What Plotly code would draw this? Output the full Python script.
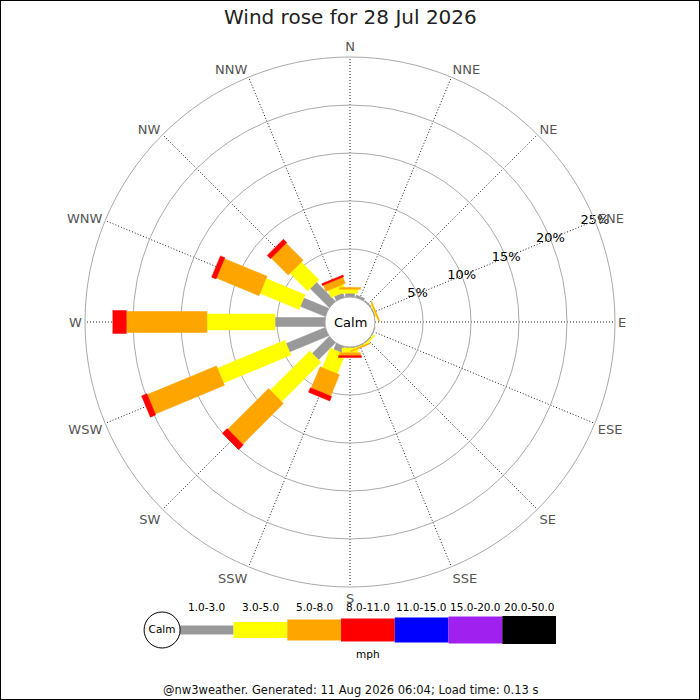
import math

import plotly.graph_objects as go

# ── Data (percent of time per direction and speed bin) ───────────────────────

DIRECTIONS = ["N", "NNE", "NE", "ENE", "E", "ESE", "SE", "SSE",
              "S", "SSW", "SW", "WSW", "W", "WNW", "NW", "NNW"]
ANGLES = [i * 22.5 for i in range(16)]

SPEED_BINS = ["1.0-3.0", "3.0-5.0", "5.0-8.0", "8.0-11.0",
              "11.0-15.0", "15.0-20.0", "20.0-50.0"]
BIN_COLORS = ["#999999", "#ffff00", "#ffa500", "#ff0000",
              "#0000ff", "#a020f0", "#000000"]

speed_1_3 = [0.4, 0.25, 0.1, 0.1, 0.0, 0.05, 0.1, 0.1,
             0.1, 0.7, 2.5, 4.4, 5.2, 2.8, 2.8, 0.5]
speed_3_5 = [0.4, 0.0, 0.0, 0.1, 0.0, 0.0, 0.15, 0.1,
             0.5, 2.2, 5.8, 7.6, 7.1, 4.4, 2.6, 0.8]
speed_5_8 = [0.2, 0.0, 0.0, 0.1, 0.0, 0.0, 0.0, 0.1,
             0.3, 2.4, 6.0, 7.8, 8.4, 4.8, 2.5, 0.7]
speed_8_11 = [0.0, 0.0, 0.0, 0.0, 0.0, 0.0, 0.0, 0.0,
              0.2, 0.5, 0.7, 0.6, 1.4, 0.5, 0.5, 0.2]
speed_11_15 = [0.0] * 16
speed_15_20 = [0.0] * 16
speed_20_50 = [0.0] * 16

BIN_VALUES = [speed_1_3, speed_3_5, speed_5_8, speed_8_11,
              speed_11_15, speed_15_20, speed_20_50]

RADIAL_TICKS = [5, 10, 15, 20, 25]
RADIAL_LABELS = ["5%", "10%", "15%", "20%", "25%"]

TITLE = "Wind rose for 28 Jul 2026"
FOOTER = "@nw3weather. Generated: 11 Aug 2026 06:04; Load time: 0.13 s"

# ── Geometry ─────────────────────────────────────────────────────────────────

OUTER_PX = 265          # radius of the 25% ring
HOLE_PX = 25            # radius of the calm circle
R_MAX = 25
PX_PER_PCT = (OUTER_PX - HOLE_PX) / R_MAX
BAR_WIDTHS = [9, 16, 21, 23, 25, 27, 28]   # px, per speed bin
CX, CY = 350, 322


def rect_path(theta, r0, r1, width):
    """Corner points (r, theta) of a constant-width bar from r0 to r1."""
    half = width / 2
    rs, ts = [], []
    for d_pct, side in ((r0, 1), (r1, 1), (r1, -1), (r0, -1), (r0, 1)):
        d = HOLE_PX + d_pct * PX_PER_PCT
        rs.append((math.hypot(d, half) - HOLE_PX) / PX_PER_PCT)
        ts.append(theta + side * math.degrees(math.atan2(half, d)))
    return rs, ts


fig = go.Figure()

base = [0.0] * 16
for name, color, width, values in zip(SPEED_BINS, BIN_COLORS, BAR_WIDTHS, BIN_VALUES):
    rs, ts = [], []
    for i, v in enumerate(values):
        if v <= 0:
            continue
        r, t = rect_path(ANGLES[i], base[i], base[i] + v, width)
        rs += r + [None]
        ts += t + [None]
        base[i] += v
    if rs:
        fig.add_trace(go.Scatterpolar(
            r=rs, theta=ts, mode="lines", fill="toself",
            fillcolor=color, line=dict(color=color, width=0.5),
            name=name, showlegend=False, hoverinfo="skip",
        ))

# radial labels along the ENE spoke
fig.add_trace(go.Scatterpolar(
    r=RADIAL_TICKS, theta=[67.5] * len(RADIAL_TICKS), mode="text",
    text=RADIAL_LABELS, textposition="middle center",
    textfont=dict(size=13, color="#000"), showlegend=False, hoverinfo="skip",
))

# ── Speed key at the bottom ──────────────────────────────────────────────────

for i, (color, width) in enumerate(zip(BIN_COLORS, BAR_WIDTHS)):
    fig.add_trace(go.Scatter(
        x=[i, i + 1], y=[0, 0], mode="lines",
        line=dict(color=color, width=width),
        xaxis="x", yaxis="y", showlegend=False, hoverinfo="skip",
    ))
    fig.add_annotation(x=i + 0.5, y=0.55, xref="x", yref="y", text=SPEED_BINS[i],
                       showarrow=False, yanchor="middle",
                       font=dict(size=10.5, color="#000"))

fig.add_trace(go.Scatter(
    x=[-0.33], y=[0], mode="markers+text", text=["Calm"],
    textfont=dict(size=10.5, color="#000"),
    marker=dict(size=36, color="white", line=dict(color="#000", width=1)),
    xaxis="x", yaxis="y", showlegend=False, hoverinfo="skip",
))
fig.add_annotation(x=3.5, y=-0.57, xref="x", yref="y", text="mph",
                   showarrow=False, yanchor="middle", font=dict(size=10.5, color="#000"))

fig.add_annotation(x=CX / 700, y=1 - CY / 700, xref="paper", yref="paper",
                   text="Calm", showarrow=False, yanchor="middle",
                   font=dict(size=13, color="#000"))
fig.add_annotation(x=0.5, y=1 - 17 / 700, xref="paper", yref="paper",
                   text=TITLE, showarrow=False, yanchor="middle",
                   font=dict(size=20, color="#222"))
fig.add_annotation(x=0.5, y=1 - 690 / 700, xref="paper", yref="paper",
                   text=FOOTER, showarrow=False, yanchor="middle",
                   font=dict(size=11.5, color="#111"))

fig.update_layout(
    width=700, height=700,
    margin=dict(l=0, r=0, t=0, b=0),
    paper_bgcolor="white", plot_bgcolor="white",
    font=dict(family="DejaVu Sans"),
    polar=dict(
        domain=dict(x=[(CX - OUTER_PX) / 700, (CX + OUTER_PX) / 700],
                    y=[1 - (CY + OUTER_PX) / 700, 1 - (CY - OUTER_PX) / 700]),
        hole=HOLE_PX / OUTER_PX,
        bgcolor="white",
        radialaxis=dict(range=[0, R_MAX], tickvals=[0] + RADIAL_TICKS,
                        showticklabels=False, ticks="", showline=False,
                        gridcolor="#aaaaaa", gridwidth=1),
        angularaxis=dict(rotation=90, direction="clockwise",
                         tickmode="array", tickvals=ANGLES, ticktext=DIRECTIONS,
                         ticks="", tickfont=dict(size=13, color="#555"),
                         showgrid=True, gridcolor="#222", griddash="1px,2px",
                         gridwidth=1,
                         showline=True, linecolor="#aaaaaa", linewidth=1),
    ),
    xaxis=dict(domain=[142.2 / 700, 556 / 700], range=[-0.7, 7], visible=False,
               fixedrange=True),
    yaxis=dict(domain=[0.04, 0.16], range=[-1, 1], visible=False, fixedrange=True),
    shapes=[dict(type="rect", xref="paper", yref="paper", x0=0, y0=0, x1=1, y1=1,
                 line=dict(color="#000", width=2))],
)

# page body margin would otherwise push the 700px figure off the window
fig.write_html("out.html", config={"displayModeBar": False},
               post_script="document.body.style.margin='0';")
